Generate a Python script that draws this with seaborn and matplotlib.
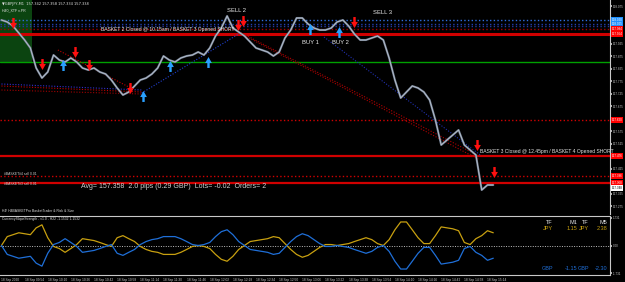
import numpy as np
import pandas as pd
import matplotlib
matplotlib.use("Agg")
import matplotlib.pyplot as plt
import matplotlib.transforms as mtrans
import seaborn as sns

# ---------------- data ----------------
minutes = list(range(0, 344, 4))
close = [158.020, 158.012, 157.996, 157.968, 157.940, 157.908, 157.828, 157.788, 157.812, 157.880,
         157.860, 157.852, 157.868, 157.852, 157.828, 157.820, 157.828, 157.812, 157.804, 157.780,
         157.748, 157.720, 157.732, 157.756, 157.780, 157.788, 157.804, 157.828, 157.876, 157.860,
         157.852, 157.868, 157.876, 157.880, 157.892, 157.880, 157.908, 157.956, 157.988, 158.036,
         157.988, 157.972, 157.956, 157.932, 157.908, 157.900, 157.892, 157.876, 157.892, 157.948,
         157.980, 158.028, 158.028, 158.004, 157.988, 157.980, 157.980, 157.988, 158.012, 158.020,
         157.996, 157.964, 157.940, 157.940, 157.948, 157.956, 157.940, 157.868, 157.780, 157.708,
         157.732, 157.756, 157.748, 157.732, 157.700, 157.620, 157.520, 157.540, 157.560, 157.580,
         157.520, 157.500, 157.480, 157.340, 157.360, 157.360]
jpy = [0.00, 0.56, 0.68, 0.80, 0.74, 0.68, 1.11, 1.30, 0.49, -0.06,
       -0.19, -0.43, -0.19, 0.06, 0.43, 0.37, 0.31, 0.19, 0.06, -0.06,
       0.49, 0.62, 0.43, 0.25, -0.06, -0.25, -0.37, -0.43, -0.56, -0.56,
       -0.56, -0.43, -0.25, -0.06, 0.00, -0.06, -0.19, -0.56, -0.87, -0.99,
       -0.68, -0.25, 0.00, 0.25, 0.31, 0.37, 0.43, 0.56, 0.49, 0.12,
       -0.25, -0.56, -0.74, -0.62, -0.37, -0.12, 0.06, 0.06, 0.00, 0.06,
       0.12, 0.25, 0.37, 0.49, 0.37, 0.12, 0.00, 0.37, 0.99, 1.48,
       1.48, 0.99, 0.49, 0.12, 0.12, 0.62, 1.17, 1.11, 1.05, 0.93,
       0.19, 0.06, 0.43, 0.62, 0.93, 0.80]
gbp = [0.00, -0.56, -0.68, -0.80, -0.74, -0.68, -1.11, -1.30, -0.49, 0.06,
       0.19, 0.43, 0.19, -0.06, -0.43, -0.37, -0.31, -0.19, -0.06, 0.06,
       -0.49, -0.62, -0.43, -0.25, 0.06, 0.25, 0.37, 0.43, 0.56, 0.56,
       0.56, 0.43, 0.25, 0.06, 0.00, 0.06, 0.19, 0.56, 0.87, 0.99,
       0.68, 0.25, 0.00, -0.25, -0.31, -0.37, -0.43, -0.56, -0.49, -0.12,
       0.25, 0.56, 0.74, 0.62, 0.37, 0.12, -0.06, -0.06, 0.00, -0.06,
       -0.12, -0.25, -0.37, -0.49, -0.37, -0.12, 0.00, -0.37, -0.99, -1.48,
       -1.48, -0.99, -0.49, -0.12, -0.12, -0.62, -1.17, -1.11, -1.05, -0.93,
       -0.19, -0.06, -0.43, -0.62, -0.93, -0.80]

time_labels = ["18 Sep 2020", "18 Sep 09:54", "18 Sep 10:10", "18 Sep 10:26", "18 Sep 10:42",
               "18 Sep 10:58", "18 Sep 11:14", "18 Sep 11:30", "18 Sep 11:46", "18 Sep 12:02",
               "18 Sep 12:18", "18 Sep 12:34", "18 Sep 12:50", "18 Sep 13:06", "18 Sep 13:22",
               "18 Sep 13:38", "18 Sep 13:54", "18 Sep 14:10", "18 Sep 14:26", "18 Sep 14:42",
               "18 Sep 14:58", "18 Sep 15:14"]
time_ticks = [0, 16, 32, 48, 64, 80, 96, 112, 128, 144, 160, 176, 192, 208, 224, 240,
              256, 272, 288, 304, 320, 336]

price_ticks = [158.075, 158.025, 157.975, 157.925, 157.875, 157.825, 157.775, 157.725,
               157.675, 157.625, 157.575, 157.525, 157.475, 157.425, 157.375, 157.325, 157.275]

# horizontal levels
level_prices = [158.020, 158.005, 157.996, 157.984, 157.964, 157.852, 157.620, 157.476, 157.396, 157.368]
level_colors = ["#2f6fe0", "#2040b0", "#28389a", "#a00000", "#d00000", "#00a000",
                "#d00000", "#d00000", "#d00000", "#d00000"]
level_styles = [":", ":", ":", ":", "-", "-", ":", "-", ":", "-"]
level_widths = [1.0, 1.0, 1.0, 1.0, 2.2, 1.0, 1.0, 1.6, 1.0, 1.6]
level_box = ["#1e90ff", "#1e90ff", None, "#ff0000", "#ff0000", None, "#ff0000", "#ff0000", "#ff0000", "#ff0000"]

# trend lines (minute, price)
tl_t0 = [0, 0, 0, 39, 97, 162, 166, 223]
tl_p0 = [157.756, 157.764, 157.740, 157.900, 157.728, 157.980, 157.964, 157.952]
tl_t1 = [97, 97, 97, 92, 165, 330, 330, 331]
tl_p1 = [157.732, 157.740, 157.724, 157.740, 157.968, 157.476, 157.462, 157.480]
tl_col = ["#c00000", "#3030d0", "#a00000", "#c00000", "#2040d0", "#b00000", "#b00000", "#2030b0"]

sell_t = [8.3, 28.3, 51.0, 60.7, 89.0, 163.4, 166.9, 243.4, 329.0, 340.7]
sell_p = [158.010, 157.846, 157.894, 157.842, 157.750, 158.002, 158.018, 158.014, 157.522, 157.414]
buy_t = [42.8, 97.9, 116.6, 142.8, 213.1, 233.1]
buy_p = [157.840, 157.716, 157.836, 157.852, 157.984, 157.972]

df = pd.DataFrame({"minute": minutes, "close": close, "JPY": jpy, "GBP": gbp})

# ---------------- style ----------------
sns.set_theme(style="dark", rc={"axes.facecolor": "black", "figure.facecolor": "black",
                                "axes.edgecolor": "#c0c0c0", "axes.grid": False})
plt.rcParams["font.family"] = ["Liberation Sans", "DejaVu Sans"]

W, H = 625, 282
fig = plt.figure(figsize=(6.25, 2.82), dpi=100)
ax = fig.add_axes([0, 1 - 214 / H, 610 / W, 214 / H])
sub = fig.add_axes([0, 1 - 275 / H, 610 / W, 59 / H])

XMAX = 610 / 1.45
ax.set_xlim(-1, XMAX)
sub.set_xlim(-1, XMAX)
ax.set_ylim(158.100 - 0.004 * 214, 158.100)
sub.set_ylim(-1.855, 1.855)

# green zone
ax.axvspan(-1, 21.4, ymin=(157.852 - (158.100 - 0.856)) / 0.856, ymax=1, color="#0b4410", zorder=0, lw=0)

# levels
for p, c, s, w in zip(level_prices, level_colors, level_styles, level_widths):
    ax.axhline(p, color=c, ls=s, lw=w, zorder=1)

# trend lines
for a, b, c, d, col in zip(tl_t0, tl_p0, tl_t1, tl_p1, tl_col):
    ax.plot([a, c], [b, d], ls=(0, (1, 1.5)), color=col, lw=0.8, zorder=1)

# price
sns.lineplot(data=df, x="minute", y="close", ax=ax, color="#6f7a8c", lw=1.5, zorder=3)
sns.lineplot(data=df, x="minute", y="close", ax=ax, color="#b8c2d0", lw=0.6, zorder=3)

# arrows
down = [(-0.22, 1), (0.22, 1), (0.22, 0.1), (0.62, 0.1), (0, -1), (-0.62, 0.1), (-0.22, 0.1), (-0.22, 1)]
up = [(x, -y) for x, y in down]
ax.scatter(sell_t, sell_p, marker=down, s=62, color="#ff1010", zorder=5, lw=0)
ax.scatter(buy_t, buy_p, marker=up, s=62, color="#2aa0ff", zorder=5, lw=0)

# texts on chart
tc = "#e8e8e8"
ax.text(69, 157.984, "BASKET 2 Closed @ 10.15am / BASKET 3 Opened SHORT", color=tc, fontsize=3.6,
        va="center", ha="left", zorder=6)
ax.text(331, 157.496, "BASKET 3 Closed @ 12.45pm / BASKET 4 Opened SHORT", color=tc, fontsize=3.6,
        va="center", ha="left", zorder=6)
ax.text(162.8, 158.060, "SELL 2", color=tc, fontsize=4.2, ha="center", va="center")
ax.text(263.4, 158.048, "SELL 3", color=tc, fontsize=4.2, ha="center", va="center")
ax.text(213.8, 157.928, "BUY 1", color=tc, fontsize=4.2, ha="center", va="center")
ax.text(234.5, 157.928, "BUY 2", color=tc, fontsize=4.2, ha="center", va="center")
ax.text(55.2, 157.352, "Avg= 157.358  2.0 pips (0.29 GBP)  Lots= -0.02  Orders= 2", color="#d0d0d0",
        fontsize=5.0, ha="left", va="center")
ax.text(1.5, 157.404, "#BASKET#4 sell 0.01", color="#d0d0d0", fontsize=2.4, ha="left", va="center")
ax.text(1.5, 157.364, "#BASKET#3 sell 0.01", color="#d0d0d0", fontsize=2.4, ha="left", va="center")

fig.text(2 / W, 1 - 4 / H, "\u25bcGBPJPY,M1  157.342 157.358 157.334 157.338", color="#e0e0e0",
         fontsize=2.6, va="center", family=["DejaVu Sans"])
fig.text(2 / W, 1 - 10 / H, "H40_XTF v.PR", color="#e0e0e0", fontsize=2.6, va="center")
fig.text(2 / W, 1 - 211 / H, "H4! H4BASKETPro BasketTrader & Risk & Size", color="#e0e0e0",
         fontsize=2.4, va="center")
fig.text(2 / W, 1 - 219 / H, "CurrencySlopeStrength - v1.0 - H22 -1.1532 1.1532", color="#e0e0e0",
         fontsize=2.4, va="center")

# right price axis
ax.yaxis.tick_right()
ax.set_yticks(price_ticks)
ax.set_yticklabels([f"{v:.3f}" for v in price_ticks], fontsize=2.2, color="#c8c8c8")
ax.tick_params(axis="y", length=1.2, pad=1.0, colors="#c8c8c8", labelcolor="#c8c8c8")
ax.set_xticks([])
ax.set_xlabel("")
ax.set_ylabel("")
for s in ["top", "left", "bottom"]:
    ax.spines[s].set_visible(False)
ax.spines["right"].set_color("#c8c8c8")
ax.spines["right"].set_linewidth(0.8)

blend = mtrans.blended_transform_factory(ax.transAxes, ax.transData)
for p, bc in zip(level_prices, level_box):
    if bc:
        ax.text(1.003, p, f"{p:.3f}", transform=blend, fontsize=2.2, color="white", va="center",
                ha="left", bbox=dict(boxstyle="square,pad=0.2", fc=bc, ec="none"), zorder=7,
                clip_on=False)
ax.text(1.003, 157.348, "157.348", transform=blend, fontsize=2.2, color="black", va="center",
        ha="left", bbox=dict(boxstyle="square,pad=0.2", fc="white", ec="none"), zorder=7, clip_on=False)

# ---------------- sub window ----------------
sub.axhline(0, color="#c0c0c0", ls=(0, (1, 1.5)), lw=0.7)
sns.lineplot(data=df, x="minute", y="JPY", ax=sub, color="#c8a010", lw=0.9)
sns.lineplot(data=df, x="minute", y="GBP", ax=sub, color="#1f6fd8", lw=0.9)
sub.yaxis.tick_right()
sub.set_yticks([1.731, 0.0, -1.731])
sub.set_yticklabels(["1.731", "0.00", "-1.731"], fontsize=2.2, color="#c8c8c8")
sub.tick_params(axis="y", length=1.2, pad=1.0, colors="#c8c8c8", labelcolor="#c8c8c8")
sub.set_xticks(time_ticks)
sub.set_xticklabels(time_labels, fontsize=2.3, color="#c8c8c8", ha="left")
sub.tick_params(axis="x", length=1.5, pad=1.0, colors="#c8c8c8", labelcolor="#c8c8c8")
sub.set_xlabel("")
sub.set_ylabel("")
sub.spines["left"].set_visible(False)
for s in ["top", "bottom", "right"]:
    sub.spines[s].set_color("#c8c8c8")
    sub.spines[s].set_linewidth(0.8)

# currency strength table
rows = [(223, "#e8e8e8", ["TF", "M1", "TF", "M5"]),
        (229, "#c8a010", ["JPY", "1.15", "JPY", "2.38"]),
        (268, "#1f6fd8", ["GBP", "-1.15", "GBP", "-2.30"])]
col_x = [553, 577, 589, 607]
for y, c, vals in rows:
    for xx, v in zip(col_x, vals):
        fig.text(xx / W, 1 - y / H, v, color=c, fontsize=4.0, ha="right", va="center")

fig.savefig("out.png", dpi=100, facecolor="black")
